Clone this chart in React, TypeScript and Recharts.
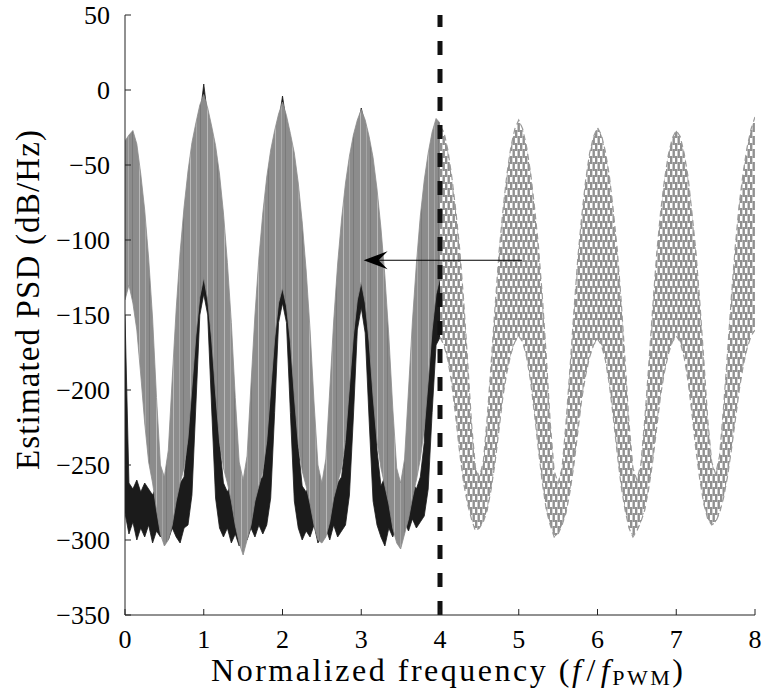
import React from 'react';
import { ComposedChart, Area, XAxis, YAxis, ReferenceLine } from 'recharts';

// sampling grid of the PSD estimate (normalized frequency)
const STEP = 0.05;
const xTicks = [0, 1, 2, 3, 4, 5, 6, 7, 8];
const yTicks = [50, 0, -50, -100, -150, -200, -250, -300, -350];

// 0 .. 4 : solid traces (upper / lower envelope of the dense spectrum)
const grayHigh = [
  -34, -30, -27, -36, -56, -80, -112, -152, -205, -250, -258,
  -240, -192, -146, -108, -78, -54, -35, -22, -10, -3,
  -12, -24, -37, -56, -82, -115, -155, -205, -248, -260,
  -244, -196, -150, -112, -82, -58, -40, -27, -16, -8,
  -17, -29, -42, -62, -88, -120, -160, -208, -250, -262,
  -246, -200, -154, -116, -86, -62, -44, -30, -20, -13,
  -20, -31, -45, -66, -92, -124, -164, -212, -252, -262,
  -246, -200, -154, -116, -84, -60, -42, -28, -19, -22,
];
const grayLow = [
  -140, -130, -142, -160, -190, -222, -248, -262, -280, -296, -304,
  -300, -290, -274, -262, -252, -232, -198, -164, -138, -125,
  -140, -166, -202, -234, -252, -262, -274, -290, -302, -310,
  -300, -290, -274, -264, -254, -234, -200, -166, -142, -132,
  -144, -168, -204, -236, -254, -264, -276, -290, -300, -302,
  -298, -288, -272, -262, -252, -232, -198, -164, -140, -128,
  -142, -168, -204, -234, -252, -264, -276, -292, -302, -306,
  -296, -286, -272, -260, -246, -226, -194, -160, -136, -125,
];
const blackHigh = [
  -150, -262, -266, -260, -268, -262, -266, -270, -264, -268, -262,
  -268, -264, -270, -262, -258, -230, -120, -45, -18, 4,
  -18, -48, -125, -235, -262, -268, -262, -266, -260, -268,
  -264, -270, -264, -260, -258, -232, -125, -50, -22, -4,
  -22, -52, -130, -238, -264, -268, -262, -258, -266, -262,
  -270, -264, -268, -262, -258, -235, -130, -55, -26, -12,
  -24, -56, -132, -240, -264, -258, -266, -262, -268, -264,
  -270, -266, -262, -266, -258, -235, -130, -58, -28, -24,
];
const blackLow = [
  -282, -296, -288, -300, -292, -298, -290, -302, -294, -298, -290,
  -300, -292, -298, -302, -292, -290, -270, -210, -150, -136,
  -150, -212, -272, -292, -298, -292, -302, -296, -304, -294,
  -300, -292, -298, -290, -296, -290, -272, -215, -155, -142,
  -155, -215, -274, -292, -300, -294, -298, -290, -302, -296,
  -292, -300, -290, -298, -294, -290, -270, -218, -160, -145,
  -162, -220, -274, -290, -298, -304, -292, -298, -290, -296,
  -288, -294, -286, -292, -288, -284, -266, -215, -170, -165,
];

// 4 .. 8 : dashed trace
const dashHigh = [
  -24, -28, -40, -58, -80, -106, -140, -180, -222, -252, -258,
  -248, -218, -182, -144, -108, -80, -56, -38, -26, -20,
  -26, -38, -55, -78, -104, -138, -178, -222, -254, -262,
  -252, -222, -186, -148, -112, -84, -60, -42, -31, -25,
  -30, -41, -57, -80, -106, -140, -180, -222, -252, -260,
  -250, -220, -184, -146, -110, -82, -60, -43, -32, -27,
  -31, -42, -58, -82, -108, -142, -180, -220, -248, -256,
  -244, -212, -176, -138, -104, -76, -55, -38, -26, -18,
];
const dashLow = [
  -165, -170, -180, -196, -218, -242, -262, -276, -286, -294, -292,
  -288, -280, -266, -248, -226, -204, -188, -176, -168, -164,
  -168, -178, -194, -216, -240, -262, -280, -290, -298, -296,
  -290, -282, -268, -250, -228, -206, -190, -178, -170, -166,
  -170, -180, -196, -218, -242, -264, -280, -292, -298, -294,
  -288, -280, -266, -248, -226, -204, -188, -176, -168, -164,
  -168, -178, -194, -216, -240, -260, -276, -286, -290, -288,
  -282, -272, -258, -240, -220, -200, -184, -172, -164, -160,
];

const arrowFrom = { x: 5.04, y: -113.5 };
const arrowTo = { x: 3.03, y: -113.5 };

const SOLID_N = grayHigh.length;
const data = Array.from({ length: SOLID_N + dashHigh.length - 1 }, (_, i) => {
  const s = i < SOLID_N ? i : -1;
  const d = i >= SOLID_N - 1 ? i - (SOLID_N - 1) : -1;
  return {
    x: Math.round(i * STEP * 100) / 100,
    black: s >= 0 ? [blackLow[s], blackHigh[s]] : null,
    gray: s >= 0 ? [grayLow[s], grayHigh[s]] : null,
    dashed: d >= 0 ? [dashLow[d], dashHigh[d]] : null,
  };
});

const FONT = 'Liberation Serif, DejaVu Serif, serif';

const fmt = (v: number) => (v < 0 ? '\u2212' + Math.abs(v) : String(v));

const XTick = (props: any) => (
  <text x={props.x} y={props.y + 18} textAnchor="middle" style={{ fontFamily: FONT }} fontSize={26} fill="#000">
    {props.payload.value}
  </text>
);

const YTick = (props: any) => (
  <text x={props.x} y={props.y + 9} textAnchor="end" style={{ fontFamily: FONT }} fontSize={26} fill="#000">
    {fmt(props.payload.value)}
  </text>
);

const Arrow = (props: any) => {
  const { x1, x2, y1 } = props;
  const tip = Math.min(x1, x2);
  const tail = Math.max(x1, x2);
  return (
    <g>
      <line x1={tip + 12} y1={y1} x2={tail} y2={y1} stroke="#000" strokeWidth={1.2} />
      <path
        d={`M${tip},${y1} L${tip + 24},${y1 - 9} L${tip + 15},${y1} L${tip + 24},${y1 + 9} Z`}
        fill="#000"
      />
    </g>
  );
};

const YLabel = (props: any) => {
  const vb = props.viewBox || { x: 0, y: 15, height: 600 };
  const cx = vb.x + 39;
  const cy = vb.y + vb.height / 2 - 15;
  return (
    <text
      x={cx}
      y={cy}
      transform={`rotate(-90 ${cx} ${cy})`}
      textAnchor="middle"
      style={{ fontFamily: FONT }}
      fontSize={33}
      fill="#000"
      textLength={340}
      lengthAdjust="spacing"
    >
      Estimated PSD (dB/Hz)
    </text>
  );
};

const XLabel = () => (
  <text
    x={447}
    y={681}
    textAnchor="middle"
    style={{ fontFamily: FONT }}
    fontSize={32}
    fill="#000"
    textLength={472}
    lengthAdjust="spacing"
  >
    Normalized frequency (<tspan fontStyle="italic">f</tspan>
    <tspan dx={3}>/</tspan>
    <tspan dx={3} fontStyle="italic">f</tspan>
    <tspan fontSize={22} dy={4}>PWM</tspan>
    <tspan dy={-4}>)</tspan>
  </text>
);

export default function App() {
  return (
    <div style={{ position: 'absolute', left: 0, top: 0, background: '#fff', fontFamily: FONT }}>
      <svg width={0} height={0} style={{ position: 'absolute' }}>
        <defs>
          <pattern id="grayStreaks" width={17} height={40} patternUnits="userSpaceOnUse">
            <rect width={17} height={40} fill="#8c8c8c" />
            <rect x={3} width={1} height={40} fill="#b9b9b9" />
            <rect x={9} width={1} height={40} fill="#a6a6a6" />
            <rect x={13} width={1} height={40} fill="#7a7a7a" />
          </pattern>
          <pattern id="dashTexture" width={5} height={13} patternUnits="userSpaceOnUse">
            <rect x={0} y={0} width={2.4} height={8} fill="#909090" />
            <rect x={2.5} y={6} width={2.4} height={7} fill="#909090" />
            <rect x={2.5} y={0} width={2.4} height={2} fill="#909090" />
          </pattern>
        </defs>
      </svg>
      <ComposedChart
        width={766}
        height={694}
        data={data}
        margin={{ top: 15, right: 11, bottom: 0, left: 0 }}
      >
        <XAxis
          dataKey="x"
          type="number"
          domain={[0, 8]}
          ticks={xTicks}
          interval={0}
          allowDataOverflow
          height={79}
          tickSize={-6}
          tickMargin={21}
          axisLine={{ stroke: '#222' }}
          tickLine={{ stroke: '#222' }}
          tick={XTick}
          label={{ content: XLabel }}
        />
        <YAxis
          type="number"
          domain={[-350, 50]}
          ticks={yTicks}
          interval={0}
          allowDataOverflow
          width={125}
          tickSize={-6}
          tickMargin={21}
          axisLine={{ stroke: '#222' }}
          tickLine={{ stroke: '#222' }}
          tick={YTick}
          label={{ content: YLabel }}
        />
        <Area
          dataKey="black"
          type="linear"
          stroke="#1b1b1b"
          strokeWidth={0.8}
          fill="#1b1b1b"
          fillOpacity={1}
          isAnimationActive={false}
          dot={false}
          activeDot={false}
        />
        <Area
          dataKey="gray"
          type="linear"
          stroke="#8c8c8c"
          strokeWidth={0.8}
          fill="url(#grayStreaks)"
          fillOpacity={1}
          isAnimationActive={false}
          dot={false}
          activeDot={false}
        />
        <Area
          dataKey="dashed"
          type="linear"
          stroke="#9a9a9a"
          strokeWidth={1.2}
          strokeDasharray="6 4"
          fill="url(#dashTexture)"
          fillOpacity={1}
          isAnimationActive={false}
          dot={false}
          activeDot={false}
        />
        <ReferenceLine x={4} stroke="#111" strokeWidth={5} strokeDasharray="14 14" />
        <ReferenceLine segment={[arrowTo, arrowFrom]} shape={Arrow} />
      </ComposedChart>
    </div>
  );
}
